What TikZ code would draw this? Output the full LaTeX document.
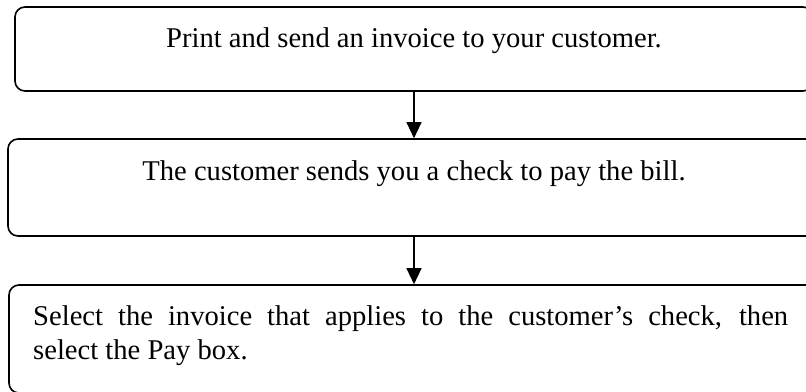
\documentclass[tikz,border=0pt]{standalone}
\usepackage{fontspec}
\setmainfont{Liberation Serif}
\usetikzlibrary{arrows.meta,calc}
\tikzset{
  stepbox/.style={draw=black, line width=1.6pt, rounded corners=10pt,
    inner sep=0pt, outer sep=0pt},
  steptext/.style={anchor=base, inner sep=0pt, font=\fontsize{28.6}{34}\selectfont},
  flow/.style={line width=1.2pt, -{Triangle[length=16pt,width=15pt]}, shorten >=0.8pt}
}
\begin{document}
\begin{tikzpicture}[x=1pt, y=-1pt]
  \useasboundingbox (0,0) rectangle (806,391);
  \clip (0,0) rectangle (806,391);
  \fill[white] (0,0) rectangle (806,391);

  % the three process boxes (right edges run past the page)
  \node[stepbox, minimum width=798pt, minimum height=84pt] (b1) at (414,49) {};
  \node[stepbox, minimum width=812pt, minimum height=97pt] (b2) at (414,187.5) {};
  \node[stepbox, minimum width=810pt, minimum height=108pt] (b3) at (414,339) {};

  % box texts
  \node[steptext] (t1) at ($(b1.north)+(0,40)$) {Print and send an invoice to your customer.};
  \node[steptext] (t2) at ($(b2.north)+(0,41)$) {The customer sends you a check to pay the bill.};
  \node[anchor=base west, inner sep=0pt, text width=755pt, align=justify,
        font=\fontsize{28.6}{34}\selectfont] (t3) at (33,325)
    {Select the invoice that applies to the customer’s check, then\linebreak
     select the Pay box.};

  % connectors
  \draw[flow] (b1.south) -- (b2.north);
  \draw[flow] (b2.south) -- (b3.north);
\end{tikzpicture}
\end{document}
